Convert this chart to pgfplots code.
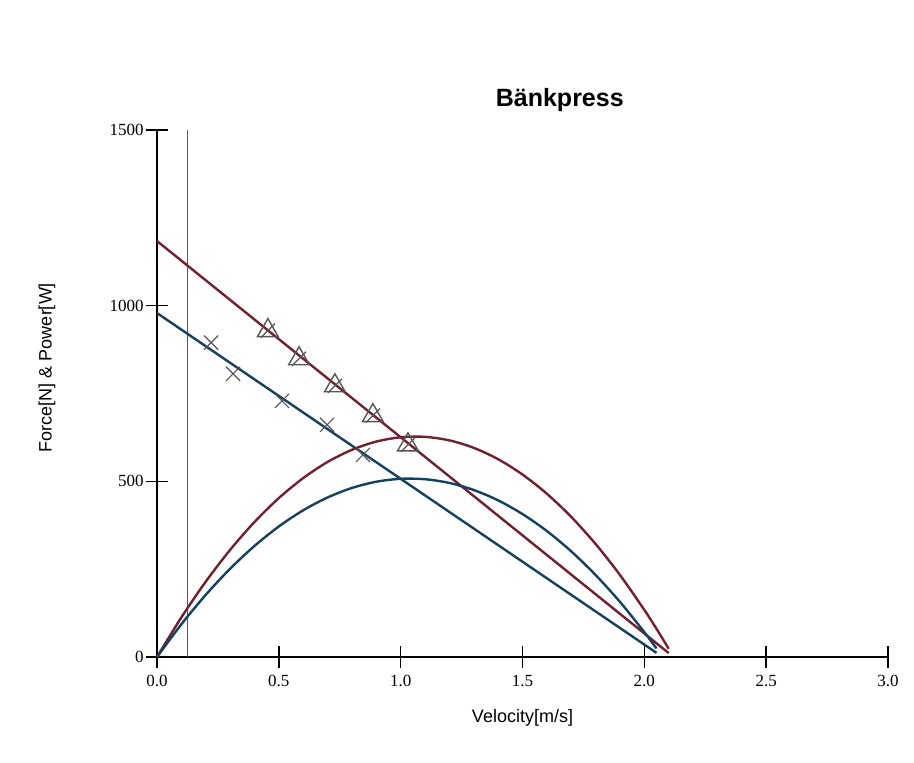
\documentclass[border=0pt]{standalone}
\usepackage{pgfplots}
\pgfplotsset{compat=1.18}
\usepackage{fontspec}
\setmainfont{Liberation Serif}
\newfontfamily\arial{Liberation Sans}
\definecolor{redline}{RGB}{115,32,45}
\definecolor{blueline}{RGB}{20,65,95}
\definecolor{markgray}{RGB}{85,85,85}
\begin{document}
\begin{tikzpicture}
\begin{axis}[
  scale only axis,
  width=365.5pt, height=263.5pt,
  xmin=0, xmax=3, ymin=0, ymax=1500,
  axis x line=bottom, axis y line=left,
  axis line style={-, line width=0.7pt},
  xtick={0,0.5,1,1.5,2,2.5,3},
  ytick={0,500,1000,1500},
  minor tick num=0,
  tick align=center,
  major tick length=11pt,
  tick style={line width=0.7pt, black},
  /pgf/number format/assume math mode=true,
  xticklabel style={/pgf/number format/fixed, /pgf/number format/fixed zerofill, /pgf/number format/precision=1, font=\fontsize{8.5}{10}\selectfont},
  yticklabel style={/pgf/number format/1000 sep={}, font=\fontsize{8.5}{10}\selectfont, inner sep=1pt},
  xlabel={\arial Velocity[m/s]},
  ylabel={\arial Force[N] \& Power[W]},
  xlabel style={font=\fontsize{9}{11}\selectfont, at={(0.5,0)}, anchor=center, yshift=-30.5pt},
  ylabel style={font=\fontsize{9}{11}\selectfont, at={(0,0.5)}, anchor=center, rotate=0, yshift=55pt, xshift=13pt},
  title={\arial\bfseries Bänkpress},
  title style={font=\fontsize{12.5}{15}\selectfont, at={(0.551,1)}, anchor=center, yshift=9pt},
  clip=false,
]
% vertical reference line
\addplot[gray!70!black, line width=0.5pt] coordinates {(0.127,0) (0.127,1500)};
% red force line
\addplot[redline, line width=1.2pt] coordinates {(0,1184) (2.1,11.2)};
% blue force line
\addplot[blueline, line width=1.2pt] coordinates {(0,979) (2.05,11.8)};
% red power
\addplot[redline, line width=1.2pt, smooth] coordinates {
(0,0) (0.1,112.8) (0.2,214.5) (0.3,304.9) (0.4,384.2) (0.5,452.4) (0.6,509.3)
(0.7,555.2) (0.8,589.8) (0.9,613.2) (1.0,625.5) (1.1,626.6) (1.2,616.6)
(1.3,595.4) (1.4,563.0) (1.5,519.4) (1.6,464.7) (1.7,398.8) (1.8,321.7)
(1.9,233.5) (2.0,134.0) (2.05,80.2) (2.1,23.5)};
% blue power
\addplot[blueline, line width=1.2pt, smooth] coordinates {
(0,0) (0.1,93.2) (0.2,176.9) (0.3,251.2) (0.4,316.1) (0.5,371.6) (0.6,417.6)
(0.7,454.1) (0.8,481.2) (0.9,498.9) (1.0,507.2) (1.1,506.0) (1.2,495.4)
(1.3,475.3) (1.4,445.9) (1.5,406.9) (1.6,358.6) (1.7,300.8) (1.8,233.5)
(1.9,156.9) (2.0,70.8) (2.05,24.2)};
% triangle data
\addplot[only marks, mark=triangle, mark size=6pt, mark options={markgray, line width=0.7pt}] coordinates {
(0.455,929) (0.583,849) (0.73,772) (0.886,687) (1.03,604)};
\addplot[only marks, mark=|, mark size=5pt, mark options={markgray, line width=0.6pt, rotate=-45}] coordinates {
(0.455,929) (0.583,849) (0.73,772) (0.886,687) (1.03,604)};
% x data
\addplot[only marks, mark=x, mark size=5pt, mark options={markgray, line width=0.6pt}] coordinates {
(0.222,895) (0.312,806) (0.513,729) (0.698,661) (0.845,575)};
\end{axis}
\path[use as bounding box] (-78.5pt,-52.5pt) rectangle (378.5pt,328.5pt);
\end{tikzpicture}
\end{document}
